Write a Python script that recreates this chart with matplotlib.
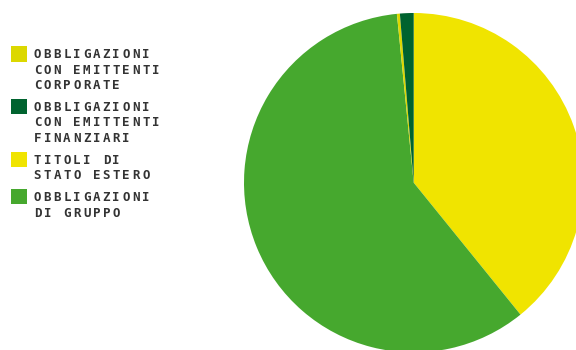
import matplotlib
matplotlib.use("Agg")
import matplotlib.pyplot as plt
from matplotlib.patches import Rectangle

# Portfolio breakdown
categories = [
    "OBBLIGAZIONI CON EMITTENTI CORPORATE",
    "OBBLIGAZIONI CON EMITTENTI FINANZIARI",
    "TITOLI DI STATO ESTERO",
    "OBBLIGAZIONI DI GRUPPO",
]
legend_lines = [
    ["OBBLIGAZIONI", "CON EMITTENTI", "CORPORATE"],
    ["OBBLIGAZIONI", "CON EMITTENTI", "FINANZIARI"],
    ["TITOLI DI", "STATO ESTERO"],
    ["OBBLIGAZIONI", "DI GRUPPO"],
]
values = [0.28, 1.30, 39.17, 59.25]
colors = ["#DCD800", "#00632F", "#F0E400", "#46A82E"]

W, H, DPI = 576, 350, 100
fig = plt.figure(figsize=(W / DPI, H / DPI), dpi=DPI)
fig.patch.set_facecolor("white")

def fx(px):
    return px / W

def fy(py):
    return 1 - py / H

# Pie: drawn clockwise from 12 o'clock, starting with the foreign govt bonds
cx, cy, r = 413.7, 182.7, 169.7
ax = fig.add_axes([fx(cx - r), fy(cy + r), 2 * r / W, 2 * r / H])
order = [2, 3, 0, 1]
ax.pie([values[i] for i in order], colors=[colors[i] for i in order],
       startangle=90, counterclock=False, radius=1,
       wedgeprops=dict(linewidth=0))
ax.set_xlim(-1, 1)
ax.set_ylim(-1, 1)
ax.set_aspect("auto")
ax.axis("off")

# Legend with wide letter spacing
font = dict(family="DejaVu Sans Mono", size=9.0, weight="semibold", color="#333333")
advance = 9.85
pitch = 15.8
gap = 5.5
text_x = 32.5
baseline = 57.8
for lines, col in zip(legend_lines, colors):
    top = baseline - 8.0
    fig.patches.append(Rectangle((fx(11), fy(top - 3.8 + 15.5)), 15.5 / W, 15.5 / H,
                                 transform=fig.transFigure, facecolor=col,
                                 edgecolor="none"))
    for line in lines:
        for i, ch in enumerate(line):
            if ch != " ":
                fig.text(fx(text_x + i * advance + advance * 0.5), fy(baseline), ch,
                         ha="center", va="baseline", **font)
        baseline += pitch
    baseline += gap

fig.savefig("out.png", dpi=DPI)
